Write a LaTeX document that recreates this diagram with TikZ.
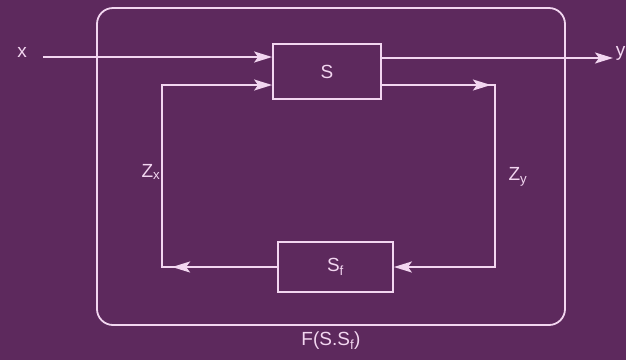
\documentclass[tikz,border=0pt]{standalone}
\usepackage{fontspec}
\setmainfont{Liberation Sans}
\usetikzlibrary{arrows.meta,decorations.markings}
\definecolor{bgpurple}{RGB}{93,41,93}
\definecolor{fg}{RGB}{242,214,240}

\begin{document}
\begin{tikzpicture}[x=1pt,y=-1pt,
  ln/.style={draw=fg, line width=1.8pt},
  blk/.style={draw=fg, line width=1.8pt, text=fg, font=\fontsize{19}{22}\selectfont},
  lbl/.style={text=fg, font=\fontsize{19}{22}\selectfont, inner sep=0pt},
  tip/.style={-{Stealth[length=18pt,width=11pt,inset=4pt]}},
  arrat/.style={postaction={decorate},decoration={markings,
    mark=at position #1 with {\arrow{Stealth[length=18pt,width=11pt,inset=4pt]}}}}]
\useasboundingbox (0,0) rectangle (626,360);
\fill[bgpurple] (0,0) rectangle (626,360);

\node[draw=fg, line width=1.8pt, rounded corners=16pt, minimum width=468pt, minimum height=317pt] (sys) at (331,166.5) {};
\node[lbl, below=6pt] (F) at (sys.south) {F(S.S\textsubscript{f})};

\node[blk, minimum width=108pt, minimum height=55pt] (S) at (327,71.5) {S};
\node[blk, minimum width=115pt, minimum height=50pt] (Sf) at (335.5,267) {S\textsubscript{f}};

\node[lbl] (x) at (22,52) {x};
\node[lbl, anchor=east] (y) at (625.5,53) {y};
\coordinate (xin) at (43,57);
\coordinate (yout) at (613,58);

\coordinate (ne) at (495,85);
\coordinate (se) at (495,267);
\coordinate (sw) at (162,267);
\coordinate (nw) at (162,85);

\draw[ln,tip] (xin) -- (xin -| S.west);
\draw[ln,tip] (S.east |- yout) -- (yout);

\draw[ln,tip,arrat=109pt] (S.east |- ne) -- (ne) -- (se) -- (Sf.east);
\draw[ln,tip,arrat=105pt] (Sf.west) -- (sw) -- (nw) -- (S.west |- nw);

\node[lbl] (zx) at (151,172) {Z\textsubscript{x}};
\node[lbl] (zy) at (518,177) {Z\textsubscript{y}};
\end{tikzpicture}
\end{document}
